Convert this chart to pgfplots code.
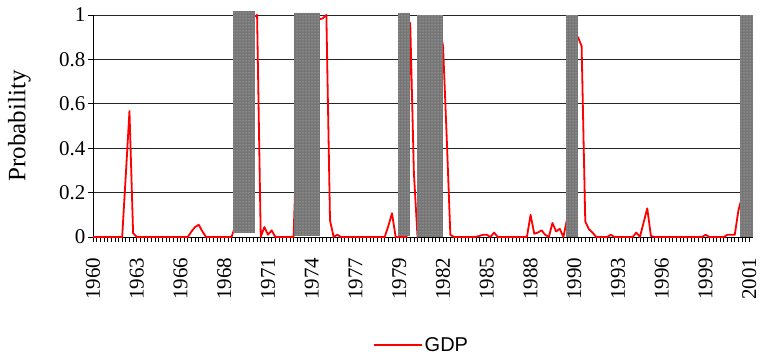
\documentclass[border=0pt]{standalone}
\usepackage{fontspec}
\setmainfont{Liberation Serif}
\newfontfamily\arialfont{Liberation Sans}
\usepackage{pgfplots}
\pgfplotsset{compat=1.18}
\usetikzlibrary{patterns}
\definecolor{bargray}{RGB}{118,118,118}
\definecolor{dotgray}{RGB}{205,205,205}
\begin{document}
\begin{tikzpicture}
\begin{axis}[
  scale only axis, width=660pt, height=222pt,
  xmin=0, xmax=181, ymin=0, ymax=1,
  clip=false,
  axis x line*=bottom, axis y line*=left,
  axis line style={black, line width=0.8pt},
  xtick={0,12,...,180},
  xticklabels={1960,1963,1966,1968,1971,1974,1977,1979,1982,1985,1988,1990,1993,1996,1999,2001},
  minor x tick num=11,
  ytick={0,0.2,0.4,0.6,0.8,1},
  yticklabels={0,0.2,0.4,0.6,0.8,1},
  tick align=outside,
  major tick length=5pt, minor tick length=5pt,
  every tick/.style={black, line width=0.7pt},
  ymajorgrids, grid style={black!85, line width=0.8pt},
  xticklabel shift=12pt,
  xticklabel style={font=\fontsize{21}{24}\selectfont, rotate=90, anchor=east},
  yticklabel style={font=\fontsize{21}{24}\selectfont, anchor=east, xshift=1pt},
  ylabel={Probability},
  every axis y label/.style={at={(axis description cs:-0.1114,0.5)}, rotate=90, anchor=center, font=\fontsize{25}{28}\selectfont},
  legend style={draw=none, fill=none, at={(axis description cs:0.4977,-0.4865)}, anchor=center, font=\arialfont\fontsize{20}{23}\selectfont},
  legend image code/.code={\draw[#1] (0pt,0pt) -- (48pt,0pt);},
]
\addplot[red, line width=1.8pt, line join=round, mark=none] coordinates {
(0,0) (1,0) (2,0) (3,0) (4,0) (5,0) (6,0) (7,0) (8,0) (9,0.28)
(10,0.567) (11,0.017) (12,0) (13,0) (14,0) (15,0) (16,0) (17,0) (18,0) (19,0)
(20,0) (21,0) (22,0) (23,0) (24,0) (25,0) (26,0) (27,0.025) (28,0.045) (29,0.055)
(30,0.025) (31,0) (32,0) (33,0) (34,0) (35,0) (36,0) (37,0) (38,0) (39,0.05)
(40,0.9) (41,0.97) (42,0.98) (43,0.99) (44,0.99) (45,1.0) (46,0) (47,0.045) (48,0.01) (49,0.03)
(50,0) (51,0) (52,0) (53,0) (54,0) (55,0) (56,0.5) (57,0.9) (58,0.95) (59,0.97)
(60,0.98) (61,0.98) (62,0.98) (63,0.985) (64,1.0) (65,0.075) (66,0) (67,0.01) (68,0) (69,0)
(70,0) (71,0) (72,0) (73,0) (74,0) (75,0) (76,0) (77,0) (78,0) (79,0)
(80,0) (81,0.05) (82,0.107) (83,0) (84,0) (85,0) (86,0) (87,0.965) (88,0.29) (89,0)
(90,0.3) (91,0.8) (92,0.95) (93,0.97) (94,0.97) (95,0.95) (96,0.86) (97,0.45) (98,0.01) (99,0)
(100,0) (101,0) (102,0) (103,0) (104,0) (105,0) (106,0.005) (107,0.01) (108,0.01) (109,0)
(110,0.02) (111,0) (112,0) (113,0) (114,0) (115,0) (116,0) (117,0) (118,0) (119,0)
(120,0.1) (121,0.015) (122,0.02) (123,0.03) (124,0.01) (125,0) (126,0.063) (127,0.025) (128,0.037) (129,0)
(130,0.08) (131,0.5) (132,0.85) (133,0.9) (134,0.86) (135,0.07) (136,0.035) (137,0.02) (138,0) (139,0)
(140,0) (141,0) (142,0.01) (143,0) (144,0) (145,0) (146,0) (147,0) (148,0) (149,0.02)
(150,0) (151,0.065) (152,0.129) (153,0.005) (154,0) (155,0) (156,0) (157,0) (158,0) (159,0)
(160,0) (161,0) (162,0) (163,0) (164,0) (165,0) (166,0) (167,0) (168,0.01) (169,0)
(170,0) (171,0) (172,0) (173,0) (174,0.01) (175,0.01) (176,0.01) (177,0.12) (178,0.18) (179,0.4)
(180,0.6)
};
\addlegendentry{GDP}
\addplot[fill=bargray, draw=none, forget plot, postaction={pattern=dots, pattern color=dotgray}] coordinates {(38.4,0.018) (44.4,0.018) (44.4,1.018) (38.4,1.018)} -- cycle;
\addplot[fill=bargray, draw=none, forget plot, postaction={pattern=dots, pattern color=dotgray}] coordinates {(55.2,0.005) (62.3,0.005) (62.3,1.009) (55.2,1.009)} -- cycle;
\addplot[fill=bargray, draw=none, forget plot, postaction={pattern=dots, pattern color=dotgray}] coordinates {(83.7,0.005) (86.9,0.005) (86.9,1.009) (83.7,1.009)} -- cycle;
\addplot[fill=bargray, draw=none, forget plot, postaction={pattern=dots, pattern color=dotgray}] coordinates {(88.9,0) (96.1,0) (96.1,1) (88.9,1)} -- cycle;
\addplot[fill=bargray, draw=none, forget plot, postaction={pattern=dots, pattern color=dotgray}] coordinates {(129.7,0) (133.0,0) (133.0,1) (129.7,1)} -- cycle;
\addplot[fill=bargray, draw=none, forget plot, postaction={pattern=dots, pattern color=dotgray}] coordinates {(177.3,0) (181.0,0) (181.0,1) (177.3,1)} -- cycle;
\end{axis}
\pgfresetboundingbox
\useasboundingbox (-93pt,-121pt) rectangle (668pt,237pt);
\end{tikzpicture}
\end{document}
